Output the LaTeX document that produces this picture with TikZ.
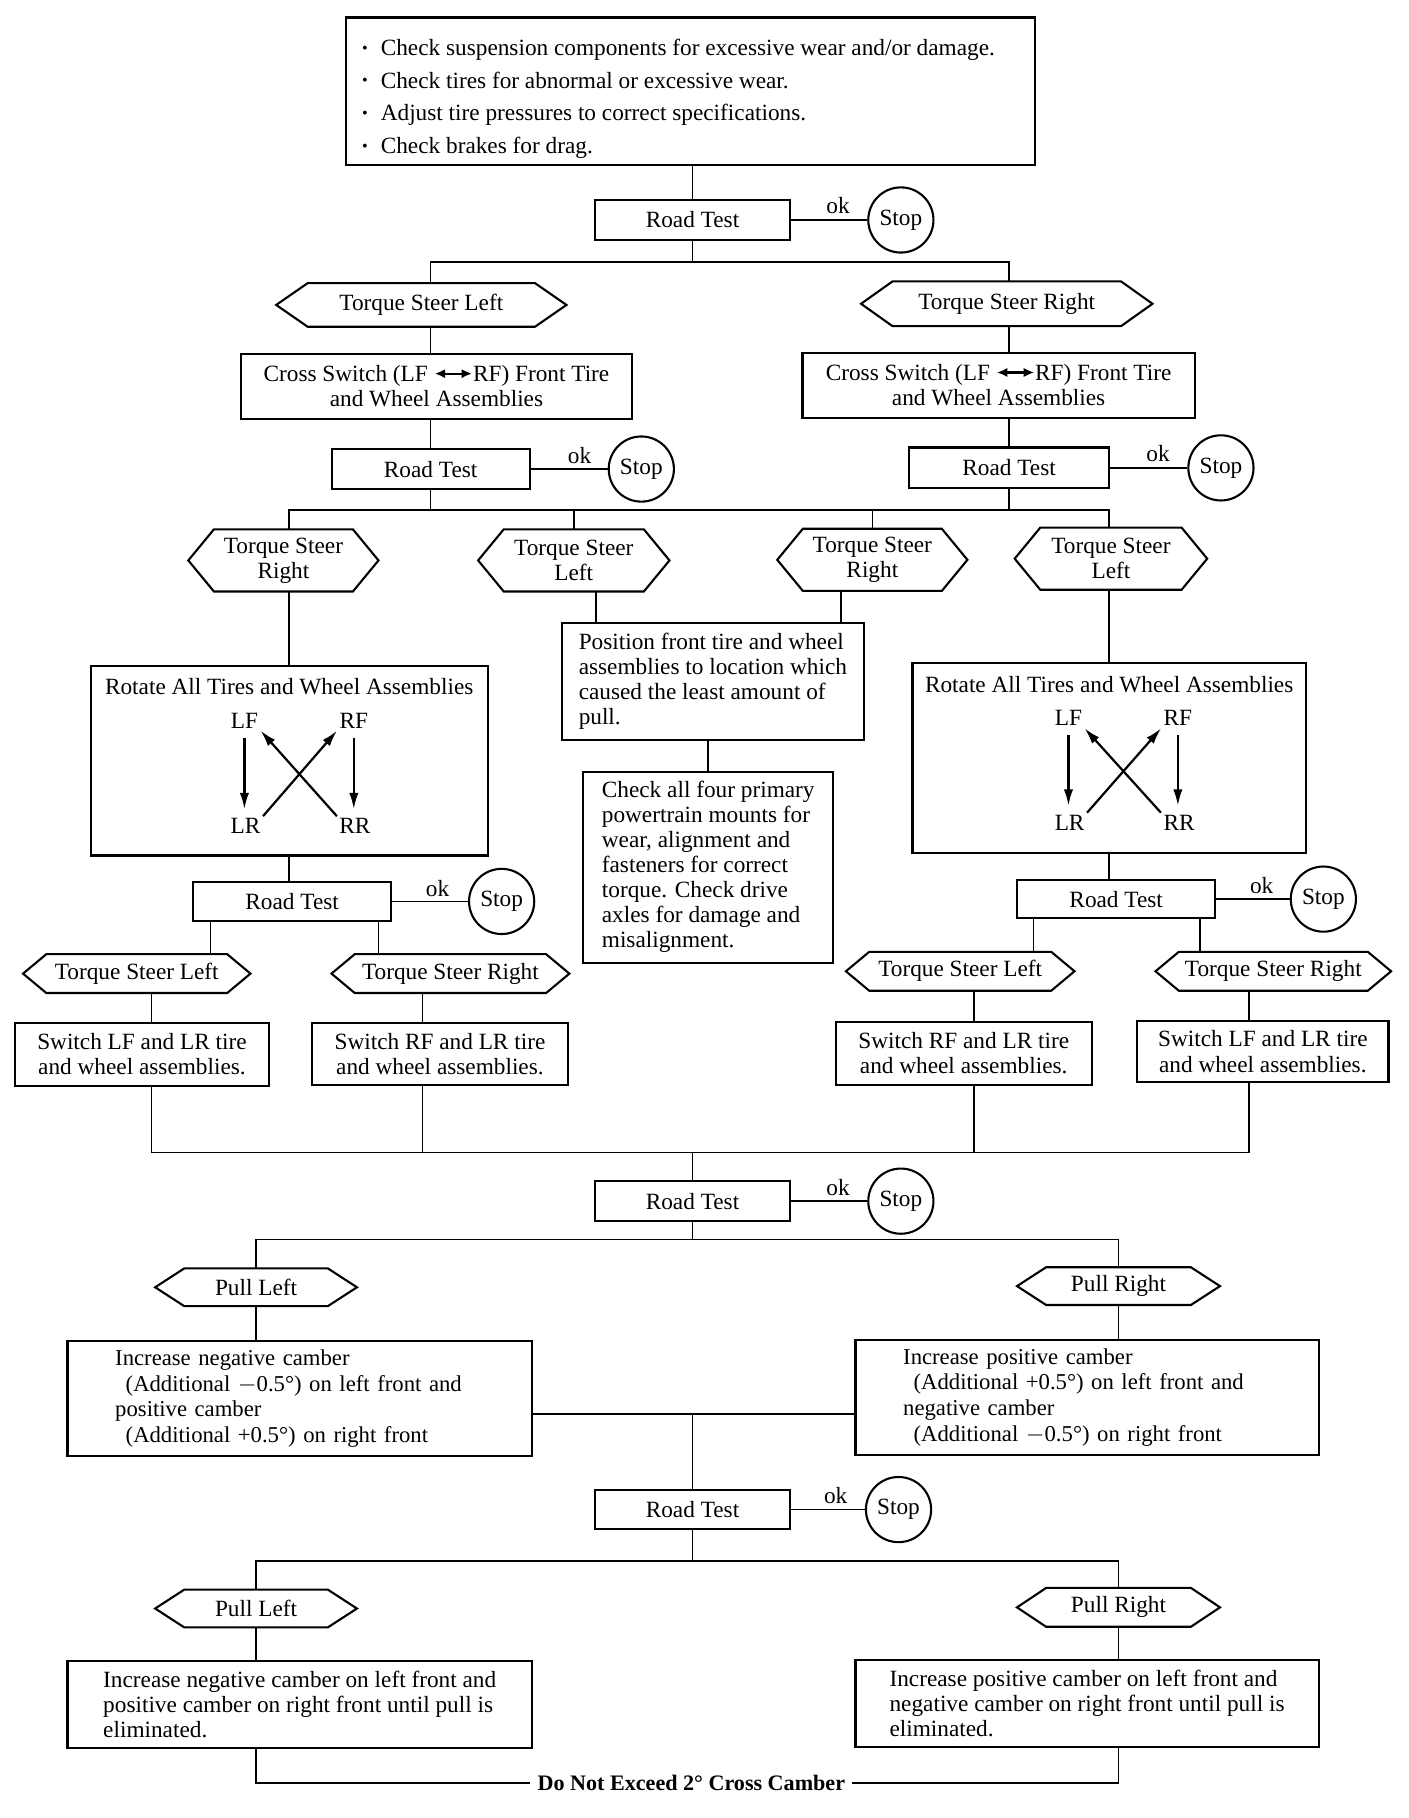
\documentclass[tikz,border=0pt]{standalone}
\usepackage{fontspec}
\usepackage{graphicx}
\setmainfont{Liberation Serif}
\usetikzlibrary{arrows.meta}
\begin{document}
\begin{tikzpicture}[x=1pt,y=-1pt,
  base/.style={font=\fontsize{20}{21.5}\selectfont, inner sep=0pt},
  box/.style={base, draw, line width=1.8pt, rectangle, align=center},
  lbox/.style={box, align=left},
  hexnode/.style={base, align=center},
  stopc/.style={base, draw, circle, line width=1.8pt, minimum size=56pt},
  conn/.style={line width=1.3pt},
  hexline/.style={line width=1.8pt, line join=miter},
  arr/.style={line width=1.9pt, -{Latex[length=14pt,width=8pt]}},
  dbl/.style={line width=1.8pt, {Latex[length=9pt,width=8pt]}-{Latex[length=9pt,width=8pt]}}
]
\useasboundingbox (0,0) rectangle (1210,1562);
\fill[white] (0,0) rectangle (1210,1562);

\newcommand{\bul}{\makebox[16pt][l]{\raisebox{2pt}{\scalebox{0.7}{\textbullet}}}}
\newcommand{\lrarrow}{\tikz[baseline=-0.35em]\draw[dbl] (0pt,0pt) -- (32pt,0pt);}

% top box
\node[lbox, minimum width=592, minimum height=127, font=\fontsize{20}{28}\selectfont] (top) at (593,78.5)
 {\rule{0pt}{27pt}\bul Check suspension components for excessive wear and/or damage.\hspace*{20pt}\\
  \bul Check tires for abnormal or excessive wear.\\
  \bul Adjust tire pressures to correct specifications.\\
  \bul Check brakes for drag.};

% road test 1
\node[box, minimum width=168, minimum height=35] (rt1) at (595,189) {Road Test};
\node[base] (ok1) at (720,177) {ok};
\node[stopc] (stop1) at (774,189) {Stop};
\coordinate (j1) at (595,225);

\node[hexnode, minimum width=249, minimum height=37] (tsl1) at (362,262) {Torque Steer Left};
\node[hexnode, minimum width=250, minimum height=38] (tsr1) at (865,261) {Torque Steer Right};

\node[box, minimum width=336, minimum height=56] (cs1) at (375,332) {Cross Switch (LF \lrarrow RF) Front Tire\\and Wheel Assemblies};
\node[box, minimum width=337, minimum height=56] (cs2) at (858,331) {Cross Switch (LF \lrarrow RF) Front Tire\\and Wheel Assemblies};

\node[box, minimum width=170, minimum height=35] (rt2l) at (370,403) {Road Test};
\node[base] (ok2l) at (498,391) {ok};
\node[stopc] (stop2l) at (551,403) {Stop};
\node[box, minimum width=172, minimum height=35] (rt2r) at (867,402) {Road Test};
\node[base] (ok2r) at (995,390) {ok};
\node[stopc] (stop2r) at (1049,402) {Stop};
\coordinate (j2) at (0,438);

\node[hexnode, minimum width=163, minimum height=53] (h2a) at (243.5,481.5) {Torque Steer\\Right};
\node[hexnode, minimum width=164, minimum height=53] (h2b) at (493,481.5) {Torque Steer\\Left};
\node[hexnode, minimum width=163, minimum height=53] (h2c) at (749.5,481) {Torque Steer\\Right};
\node[hexnode, minimum width=165, minimum height=53] (h2d) at (954.5,480) {Torque Steer\\Left};

% rotate boxes
\node[box, minimum width=341, minimum height=163] (rot1) at (248.5,653.5) {};
\node[base] (rot1t) at (248.5,590) {Rotate All Tires and Wheel Assemblies};
\node[base, inner sep=2pt] (lf1) at (210,619) {LF};
\node[base, inner sep=2pt] (rf1) at (304,619) {RF};
\node[base, inner sep=2pt] (lr1) at (211,710) {LR};
\node[base, inner sep=2pt] (rr1) at (305,710) {RR};

\node[box, minimum width=338, minimum height=163] (rot2) at (953,651.5) {};
\node[base] (rot2t) at (953,588) {Rotate All Tires and Wheel Assemblies};
\node[base, inner sep=2pt] (lf2) at (918,617) {LF};
\node[base, inner sep=2pt] (rf2) at (1012,617) {RF};
\node[base, inner sep=2pt] (lr2) at (919,707) {LR};
\node[base, inner sep=2pt] (rr2) at (1013,707) {RR};

% middle boxes
\node[lbox, minimum width=259, minimum height=101] (pos) at (612.5,585.5)
 {Position front tire and wheel\\assemblies to location which\\caused the least amount of\\pull.};
\node[lbox, minimum width=215, minimum height=164] (chk) at (608.5,745)
 {Check all four primary\\powertrain mounts for\\wear, alignment and\\fasteners for correct\\torque. Check drive\\axles for damage and\\misalignment.};

% road test 3
\node[box, minimum width=170, minimum height=33] (rt3l) at (251,774.5) {Road Test};
\node[base] (ok3l) at (376,763) {ok};
\node[stopc] (stop3l) at (431,774.5) {Stop};
\node[box, minimum width=170, minimum height=33] (rt3r) at (959,772.5) {Road Test};
\node[base] (ok3r) at (1084,761) {ok};
\node[stopc] (stop3r) at (1137,772.5) {Stop};

\node[hexnode, minimum width=195, minimum height=33] (h3a) at (117.5,836.5) {Torque Steer Left};
\node[hexnode, minimum width=204, minimum height=33] (h3b) at (387,836.5) {Torque Steer Right};
\node[hexnode, minimum width=196, minimum height=33] (h3c) at (825,834.5) {Torque Steer Left};
\node[hexnode, minimum width=202, minimum height=33] (h3d) at (1094,834.5) {Torque Steer Right};

\node[box, minimum width=218, minimum height=54] (sw1) at (122,906) {Switch LF and LR tire\\and wheel assemblies.};
\node[box, minimum width=220, minimum height=53] (sw2) at (378,905.5) {Switch RF and LR tire\\and wheel assemblies.};
\node[box, minimum width=220, minimum height=54] (sw3) at (828,905) {Switch RF and LR tire\\and wheel assemblies.};
\node[box, minimum width=216, minimum height=53] (sw4) at (1085,903.5) {Switch LF and LR tire\\and wheel assemblies.};

\coordinate (j3) at (0,990);
\coordinate (ca) at (181,0);
\coordinate (cb) at (325,0);
\coordinate (cc) at (888,0);
\coordinate (cd) at (1031,0);
\coordinate (ce) at (130,0);
\coordinate (cf) at (363,0);
\coordinate (cg) at (837,0);
\coordinate (ch) at (1073,0);

% road test 4
\node[box, minimum width=168, minimum height=34] (rt4) at (595,1032) {Road Test};
\node[base] (ok4) at (720,1020) {ok};
\node[stopc] (stop4) at (774,1032) {Stop};
\coordinate (j4) at (0,1065);

\node[hexnode, minimum width=173, minimum height=32] (pl1) at (220,1106) {Pull Left};
\node[hexnode, minimum width=174, minimum height=32] (pr1) at (961,1105) {Pull Right};

\node[lbox, minimum width=399, minimum height=99, text width=317, font=\fontsize{19.5}{22}\selectfont] (cb1) at (257.5,1201.5)
 {Increase negative camber\\\hspace*{9pt}(Additional $-$0.5°) on left front and\\positive camber\\\hspace*{9pt}(Additional +0.5°) on right front};
\node[lbox, minimum width=398, minimum height=99, text width=316, font=\fontsize{19.5}{22}\selectfont] (cb2) at (934,1200.5)
 {Increase positive camber\\\hspace*{9pt}(Additional +0.5°) on left front and\\negative camber\\\hspace*{9pt}(Additional $-$0.5°) on right front};
\coordinate (j5) at (595,1215);

% road test 5
\node[box, minimum width=168, minimum height=34] (rt5) at (595,1297) {Road Test};
\node[base] (ok5) at (718,1285) {ok};
\node[stopc] (stop5) at (772,1297) {Stop};
\coordinate (j6) at (0,1341);

\node[hexnode, minimum width=173, minimum height=32] (pl2) at (220,1382) {Pull Left};
\node[hexnode, minimum width=174, minimum height=33] (pr2) at (961,1381) {Pull Right};

\node[lbox, minimum width=399, minimum height=75] (fb1) at (257.5,1464.5)
 {Increase negative camber on left front and\\positive camber on right front until pull is\\eliminated.};
\node[lbox, minimum width=398, minimum height=75] (fb2) at (934,1463.5)
 {Increase positive camber on left front and\\negative camber on right front until pull is\\eliminated.};

\node[base, font=\bfseries\fontsize{19}{21}\selectfont, inner xsep=6pt] (dne) at (594,1532) {Do Not Exceed 2° Cross Camber};

% hexagon outlines
\foreach \n/\d in {tsl1/27,tsr1/27,h2a/22,h2b/22,h2c/22,h2d/22,h3a/20,h3b/20,h3c/20,h3d/20,pl1/25,pr1/25,pl2/25,pr2/25}
  \draw[hexline] (\n.west) -- ([xshift=\d]\n.north west) -- ([xshift=-\d]\n.north east) -- (\n.east) -- ([xshift=-\d]\n.south east) -- ([xshift=\d]\n.south west) -- cycle;

% rotation arrows
\draw[arr, shorten <=6pt, shorten >=6pt] (lf1.south) -- (lf1.south |- lr1.north);
\draw[arr, shorten <=6pt, shorten >=6pt] (rf1.south) -- (rf1.south |- rr1.north);
\draw[arr] (lr1.north east) -- (rf1.south west);
\draw[arr] (rr1.north west) -- (lf1.south east);
\draw[arr, shorten <=6pt, shorten >=6pt] (lf2.south) -- (lf2.south |- lr2.north);
\draw[arr, shorten <=6pt, shorten >=6pt] (rf2.south) -- (rf2.south |- rr2.north);
\draw[arr] (lr2.north east) -- (rf2.south west);
\draw[arr] (rr2.north west) -- (lf2.south east);

% connectors
\draw[conn] (top.south -| rt1) -- (rt1.north);
\draw[conn] (rt1.east) -- (stop1.west);
\draw[conn] (rt1.south) -- (j1);
\draw[conn] (tsl1.north -| rt2l) -- (j1 -| rt2l) -- (j1 -| rt2r) -- (tsr1.north -| rt2r);
\draw[conn] (tsl1.south -| rt2l) -- (cs1.north -| rt2l);
\draw[conn] (tsr1.south -| rt2r) -- (cs2.north -| rt2r);
\draw[conn] (cs1.south -| rt2l) -- (rt2l.north);
\draw[conn] (cs2.south -| rt2r) -- (rt2r.north);
\draw[conn] (rt2l.east) -- (stop2l.west);
\draw[conn] (rt2r.east) -- (stop2r.west);
\draw[conn] (rt2l.south) -- (rt2l.south |- j2);
\draw[conn] (rt2r.south) -- (rt2r.south |- j2);
\draw[conn] (h2a.north -| rot1) -- (j2 -| rot1) -- (j2 -| rot2) -- (h2d.north -| rot2);
\draw[conn] (j2 -| h2b) -- (h2b.north);
\draw[conn] (j2 -| h2c) -- (h2c.north);
\draw[conn] (h2a.south -| rot1) -- (rot1.north);
\draw[conn] (h2d.south -| rot2) -- (rot2.north);
\draw[conn] ([xshift=19]h2b.south) -- ([xshift=19]h2b.south |- pos.north);
\draw[conn] ([xshift=-27]h2c.south) -- ([xshift=-27]h2c.south |- pos.north);
\draw[conn] (pos.south -| chk) -- (chk.north);
\draw[conn] (rot1.south) -- (rot1.south |- rt3l.north);
\draw[conn] (rot2.south) -- (rot2.south |- rt3r.north);
\draw[conn] (rt3l.east) -- (stop3l.west);
\draw[conn] (rt3r.east) -- (stop3r.west);
\draw[conn] (rt3l.south -| ca) -- (h3a.north -| ca);
\draw[conn] (rt3l.south -| cb) -- (h3b.north -| cb);
\draw[conn] (rt3r.south -| cc) -- (h3c.north -| cc);
\draw[conn] (rt3r.south -| cd) -- (h3d.north -| cd);
\draw[conn] (h3a.south -| ce) -- (sw1.north -| ce);
\draw[conn] (h3b.south -| cf) -- (sw2.north -| cf);
\draw[conn] (h3c.south -| cg) -- (sw3.north -| cg);
\draw[conn] (h3d.south -| ch) -- (sw4.north -| ch);
\draw[conn] (sw1.south -| ce) -- (j3 -| ce) -- (j3 -| ch) -- (sw4.south -| ch);
\draw[conn] (sw2.south -| cf) -- (j3 -| cf);
\draw[conn] (sw3.south -| cg) -- (j3 -| cg);
\draw[conn] (j3 -| rt4) -- (rt4.north);
\draw[conn] (rt4.east) -- (stop4.west);
\draw[conn] (rt4.south) -- (rt4.south |- j4);
\draw[conn] (pl1.north) -- (pl1.north |- j4) -- (pr1.north |- j4) -- (pr1.north);
\draw[conn] (pl1.south) -- (pl1.south |- cb1.north);
\draw[conn] (pr1.south) -- (pr1.south |- cb2.north);
\draw[conn] (cb1.east |- j5) -- (cb2.west |- j5);
\draw[conn] (j5 -| rt5) -- (rt5.north);
\draw[conn] (rt5.east) -- (stop5.west);
\draw[conn] (rt5.south) -- (rt5.south |- j6);
\draw[conn] (pl2.north) -- (pl2.north |- j6) -- (pr2.north |- j6) -- (pr2.north);
\draw[conn] (pl2.south) -- (pl2.south |- fb1.north);
\draw[conn] (pr2.south) -- (pr2.south |- fb2.north);
\draw[conn] (fb1.south -| pl2) -- (pl2 |- dne) -- (dne.west);
\draw[conn] (dne.east) -- (pr2 |- dne) -- (fb2.south -| pr2);
\end{tikzpicture}
\end{document}
